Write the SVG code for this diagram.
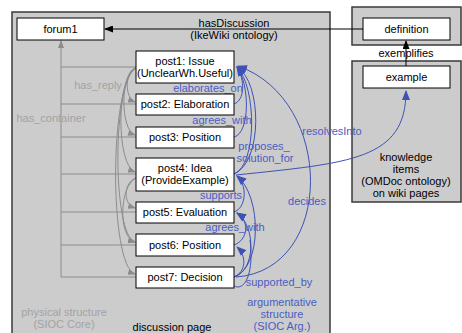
<svg xmlns="http://www.w3.org/2000/svg" width="462" height="333" viewBox="0 0 462 333">
<style>
text{font-family:"Liberation Sans",Arial,sans-serif;font-size:11px;text-anchor:middle}
.panel{fill:#cccccc;stroke:#3a3a3a;stroke-width:1.5}
.box{fill:#ffffff;stroke:#000000;stroke-width:1}
.blk{fill:#000}
.gt{fill:#a3a3a3}
.bt{fill:#4a5cc2}
.gl{fill:none;stroke:#8c8c8c;stroke-width:1}
.bl{fill:none;stroke:#3d52b6;stroke-width:1}
.kl{fill:none;stroke:#000;stroke-width:1}
</style>
<defs>
<marker id="ak" markerUnits="userSpaceOnUse" markerWidth="9" markerHeight="7" refX="8" refY="3.5" orient="auto"><path d="M0,0 L9,3.5 L0,7 z" fill="#000"/></marker>
<marker id="ag" markerUnits="userSpaceOnUse" markerWidth="8" markerHeight="6" refX="7" refY="3" orient="auto"><path d="M0,0 L8,3 L0,6 z" fill="#8c8c8c"/></marker>
<marker id="ab" markerUnits="userSpaceOnUse" markerWidth="10" markerHeight="8" refX="9" refY="4" orient="auto"><path d="M0,0 L10,4 L0,8 z" fill="#3d52b6"/></marker>
</defs>

<g id="discussion-page">
<rect class="panel" x="12" y="12" width="318" height="330"/>
<text x="172" y="331" class="blk">discussion page</text>
<text x="64" y="316" class="gt">physical structure</text>
<text x="64" y="328" class="gt">(SIOC Core)</text>
<text x="282" y="306" class="bt">argumentative</text>
<text x="282" y="318" class="bt">structure</text>
<text x="282" y="330" class="bt">(SIOC Arg.)</text>
</g>
<g id="definition-panel">
<rect class="panel" x="352" y="7" width="109" height="38"/>
</g>
<g id="knowledge-panel">
<rect class="panel" x="352" y="61" width="109" height="141"/>
<text x="406" y="161" class="blk">knowledge</text>
<text x="406" y="173" class="blk">items</text>
<text x="406" y="185" class="blk">(OMDoc ontology)</text>
<text x="406" y="197" class="blk">on wiki pages</text>
</g>

<g id="connectors">
<!-- has_container -->
<path class="gl" d="M61,277 L61,41" marker-end="url(#ag)"/>
<path class="gl" d="M61,67 H136 M61,104 H136 M61,137 H136 M61,174 H136 M61,212 H136 M61,245 H136 M61,277 H136"/>
<!-- has_reply -->
<path class="gl" d="M136,68 C125,70 124,98 135,102" marker-end="url(#ag)"/>
<path class="gl" d="M136,68 C120,72 120,130 135,135" marker-end="url(#ag)"/>
<path class="gl" d="M136,68 C116,75 116,165 135,172" marker-end="url(#ag)"/>
<path class="gl" d="M136,68 C112,80 112,235 135,242" marker-end="url(#ag)"/>
<path class="gl" d="M136,68 C109,82 109,266 135,274" marker-end="url(#ag)"/>
<path class="gl" d="M136,178 C124,182 122,204 135,208" marker-end="url(#ag)"/>
<path class="gl" d="M136,178 C119,186 118,238 135,242" marker-end="url(#ag)"/>
<!-- hasDiscussion -->
<path class="kl" d="M363,29 L105,29" marker-end="url(#ak)"/>
<!-- exemplifies -->
<path class="kl" d="M406,66 L406,41" marker-end="url(#ak)"/>
<!-- argumentative -->
<path class="bl" d="M234,104 C245,100 245,80 237,67" marker-end="url(#ab)"/>
<path class="bl" d="M234,137 C250,133 250,85 237,67" marker-end="url(#ab)"/>
<path class="bl" d="M234,174 C257,165 257,88 237,67" marker-end="url(#ab)"/>
<path class="bl" d="M234,174 C263,162 262,82 237,67" marker-end="url(#ab)"/>
<path class="bl" d="M236,277 C335,270 335,100 238,66" marker-end="url(#ab)"/>
<path class="bl" d="M236,175 C350,163 406,160 406,91" marker-end="url(#ab)"/>
<path class="bl" d="M234,212 C246,208 248,186 237,176" marker-end="url(#ab)"/>
<path class="bl" d="M234,245 C248,240 250,221 237,213" marker-end="url(#ab)"/>
<path class="bl" d="M234,277 C246,272 247,256 237,247" marker-end="url(#ab)"/>
<path class="bl" d="M234,277 C256,270 256,226 237,213" marker-end="url(#ab)"/>
<path class="bl" d="M234,277 C262,268 262,196 237,176" marker-end="url(#ab)"/>
<path class="bl" d="M250,240 C254,270 246,292 234,286"/>
<!-- labels -->
<text x="98" y="89" class="gt">has_reply</text>
<text x="51" y="122" class="gt">has_container</text>
<text x="234" y="27" class="blk">hasDiscussion</text>
<text x="234" y="39" class="blk">(IkeWiki ontology)</text>
<text x="406" y="57" class="blk">exemplifies</text>
<text x="208" y="92" class="bt">elaborates_on</text>
<text x="222" y="124" class="bt">agrees_with</text>
<text x="264" y="150" class="bt">proposes_</text>
<text x="265" y="162" class="bt">solution_for</text>
<text x="332" y="135" class="bt">resolvesInto</text>
<text x="221" y="199" class="bt">supports</text>
<text x="235" y="231" class="bt">agrees_with</text>
<text x="307" y="205" class="bt">decides</text>
<text x="279" y="286" class="bt">supported_by</text>
</g>

<g id="forum1"><rect class="box" x="17" y="18" width="87" height="22"/><text x="60.5" y="33" class="blk">forum1</text></g>
<g id="definition"><rect class="box" x="363" y="18" width="87" height="22"/><text x="406.5" y="33" class="blk">definition</text></g>
<g id="example"><rect class="box" x="363" y="66" width="87" height="22"/><text x="406.5" y="81" class="blk">example</text></g>
<g id="post1"><rect class="box" x="136" y="51" width="98" height="32"/><text x="185" y="65" class="blk">post1: Issue</text><text x="185" y="77" class="blk">(UnclearWh.Useful)</text></g>
<g id="post2"><rect class="box" x="136" y="94" width="98" height="21"/><text x="185" y="108" class="blk">post2: Elaboration</text></g>
<g id="post3"><rect class="box" x="136" y="127" width="98" height="21"/><text x="185" y="141" class="blk">post3: Position</text></g>
<g id="post4"><rect class="box" x="136" y="158" width="98" height="33"/><text x="185" y="172" class="blk">post4: Idea</text><text x="185" y="184" class="blk">(ProvideExample)</text></g>
<g id="post5"><rect class="box" x="136" y="202" width="98" height="21"/><text x="185" y="216" class="blk">post5: Evaluation</text></g>
<g id="post6"><rect class="box" x="136" y="234" width="98" height="22"/><text x="185" y="249" class="blk">post6: Position</text></g>
<g id="post7"><rect class="box" x="136" y="267" width="98" height="21"/><text x="185" y="281" class="blk">post7: Decision</text></g>
</svg>
